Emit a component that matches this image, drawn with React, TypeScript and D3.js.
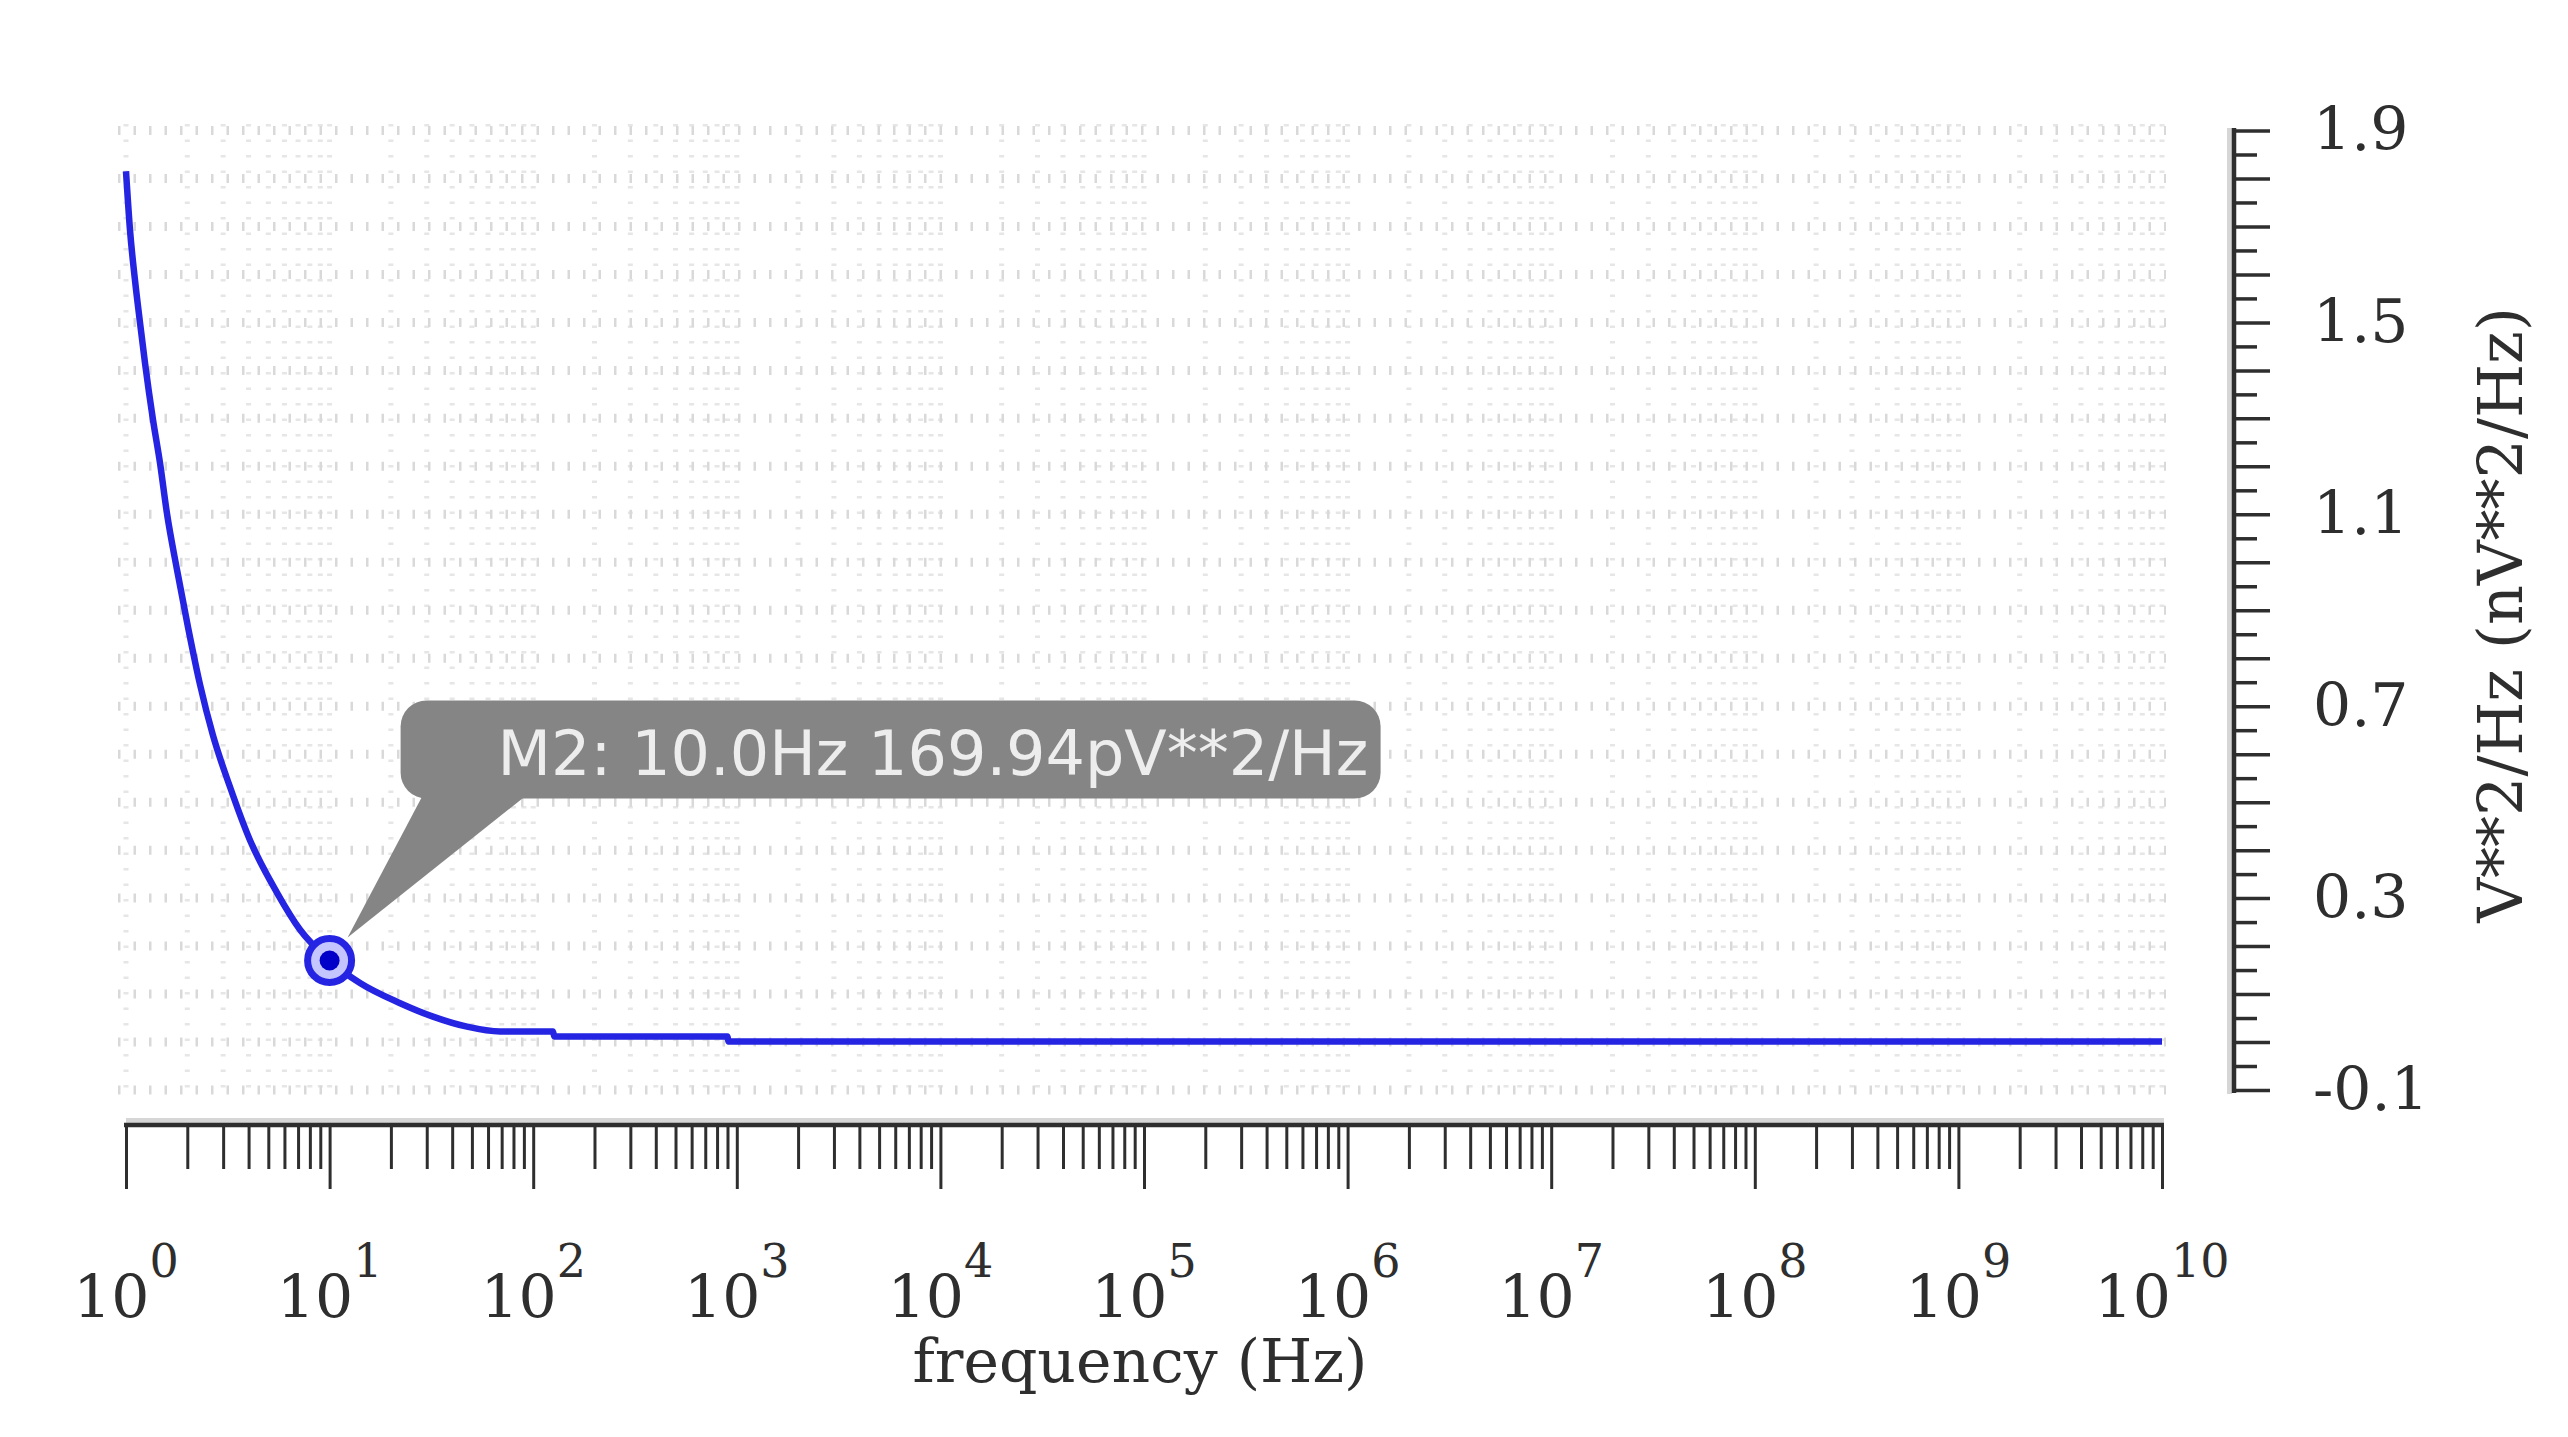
import React, { useRef, useEffect } from 'react';
import * as d3 from 'd3';

// trace: frequency (Hz) -> PSD (nV**2/Hz)
const freqHz = [1, 1.046, 1.107, 1.172, 1.24, 1.357, 1.469, 1.589, 1.781, 2.016, 2.31, 2.67, 3.24, 4.06, 5.52, 7.16, 10, 14.1, 22.2, 32.2, 47.3, 68.7, 125, 127, 900, 910, 1e10];
const psdValues = [1.815, 1.693, 1.588, 1.499, 1.415, 1.297, 1.207, 1.102, 0.984, 0.865, 0.745, 0.64, 0.532, 0.421, 0.311, 0.234, 0.17, 0.123, 0.081, 0.053, 0.032, 0.022, 0.022, 0.0115, 0.0115, 0.001, 0.001];

const xDecades = [0, 1, 2, 3, 4, 5, 6, 7, 8, 9, 10];
const yTickLabels = [-0.1, 0.3, 0.7, 1.1, 1.5, 1.9];

const markerFreq = 10;
const markerValue = 0.16994;
const markerLabel = 'M2: 10.0Hz 169.94pV**2/Hz';

const xTitle = 'frequency (Hz)';
const yTitle = 'V**2/Hz (nV**2/Hz)';

const App = () => {
  const svgRef = useRef<SVGSVGElement>(null);

  useEffect(() => {
    const width = 2568;
    const height = 1437;
    const serif = 'DejaVu Serif';
    const ink = '#2e2e2e';

    const svg = d3.select(svgRef.current)
      .attr('width', width)
      .attr('height', height);

    svg.selectAll('*').remove();

    const x = d3.scaleLog().domain([1, 1e10]).range([126, 2162]);
    const y = d3.scaleLinear().domain([-0.1, 1.9]).range([1090, 130.5]);
    const xAxisY = 1125;
    const yAxisX = 2234;

    const xMajor = xDecades.map(k => 10 ** k);
    const xMinor = xDecades.slice(0, -1).flatMap(k => d3.range(2, 10).map(m => m * 10 ** k));
    const yMajor = d3.range(0, 21).map(i => -0.1 + i * 0.1);
    const yMinor = d3.range(0, 20).map(i => -0.05 + i * 0.1);

    // dotted grid
    svg.append('g')
      .selectAll('line')
      .data([...xMajor, ...xMinor])
      .join('line')
      .attr('x1', d => x(d))
      .attr('x2', d => x(d))
      .attr('y1', 124)
      .attr('y2', 1096)
      .attr('stroke', '#e6e6e6')
      .attr('stroke-width', 5)
      .attr('stroke-dasharray', '2.5 13');

    svg.append('g')
      .selectAll('line')
      .data(yMajor)
      .join('line')
      .attr('x1', 118)
      .attr('x2', 2166)
      .attr('y1', d => y(d))
      .attr('y2', d => y(d))
      .attr('stroke', '#d9d9d9')
      .attr('stroke-width', 9)
      .attr('stroke-dasharray', '2.5 13');

    // trace
    const line = d3.line<number>()
      .x((d, i) => x(freqHz[i]))
      .y(d => y(d))
      .curve(d3.curveMonotoneX);

    svg.append('path')
      .datum(psdValues)
      .attr('fill', 'none')
      .attr('stroke', '#2424e2')
      .attr('stroke-width', 6.5)
      .attr('stroke-linejoin', 'round')
      .attr('d', line);

    // marker callout
    const mx = x(markerFreq);
    const my = y(markerValue);
    const callout = svg.append('g');
    callout.append('rect')
      .attr('x', mx + 71)
      .attr('y', my - 260)
      .attr('width', 980)
      .attr('height', 98)
      .attr('rx', 26)
      .attr('fill', '#858585');
    callout.append('polygon')
      .attr('points', `${mx + 18},${my - 23} ${mx + 92},${my - 163} ${mx + 194},${my - 163}`)
      .attr('fill', '#858585');
    callout.append('text')
      .attr('x', mx + 168)
      .attr('y', my - 185)
      .attr('font-family', 'DejaVu Sans')
      .attr('font-size', 62)
      .attr('fill', '#ededed')
      .text(markerLabel);

    svg.append('circle')
      .attr('cx', mx)
      .attr('cy', my)
      .attr('r', 22)
      .attr('fill', '#c4c4ff')
      .attr('stroke', '#2424e2')
      .attr('stroke-width', 7);
    svg.append('circle')
      .attr('cx', mx)
      .attr('cy', my)
      .attr('r', 10)
      .attr('fill', '#0000c8');

    // x axis
    svg.append('rect')
      .attr('x', 126)
      .attr('y', xAxisY - 7)
      .attr('width', 2038)
      .attr('height', 5)
      .attr('fill', '#d6d6d6');

    const gxMajor = svg.append('g').attr('transform', `translate(0,${xAxisY})`)
      .call(d3.axisBottom(x).tickValues(xMajor).tickSize(64).tickFormat(() => ''));
    const gxMinor = svg.append('g').attr('transform', `translate(0,${xAxisY})`)
      .call(d3.axisBottom(x).tickValues(xMinor).tickSize(44).tickFormat(() => ''));
    [gxMajor, gxMinor].forEach(g => {
      g.select('.domain').remove();
      g.selectAll('line').attr('stroke', ink).attr('stroke-width', 3);
    });

    svg.append('line')
      .attr('x1', 124)
      .attr('x2', 2164)
      .attr('y1', xAxisY)
      .attr('y2', xAxisY)
      .attr('stroke', ink)
      .attr('stroke-width', 4.5);

    const xLabels = svg.append('g')
      .attr('font-family', serif)
      .attr('fill', ink);
    xDecades.forEach(k => {
      const t = xLabels.append('text')
        .attr('x', x(10 ** k))
        .attr('y', 1318)
        .attr('text-anchor', 'middle')
        .attr('font-size', 60);
      t.append('tspan').text('10');
      t.append('tspan').attr('dy', -41).attr('font-size', 46).text(String(k));
    });

    svg.append('text')
      .attr('x', 1140)
      .attr('y', 1382)
      .attr('text-anchor', 'middle')
      .attr('font-family', serif)
      .attr('font-size', 60)
      .attr('fill', ink)
      .text(xTitle);

    // y axis (right)
    svg.append('rect')
      .attr('x', yAxisX - 7)
      .attr('y', 128)
      .attr('width', 5)
      .attr('height', 966)
      .attr('fill', '#d6d6d6');

    const gyMajor = svg.append('g').attr('transform', `translate(${yAxisX},0)`)
      .call(d3.axisRight(y).tickValues(yMajor).tickSize(36).tickFormat(() => ''));
    const gyMinor = svg.append('g').attr('transform', `translate(${yAxisX},0)`)
      .call(d3.axisRight(y).tickValues(yMinor).tickSize(23).tickFormat(() => ''));
    [gyMajor, gyMinor].forEach(g => {
      g.select('.domain').remove();
      g.selectAll('line').attr('stroke', ink).attr('stroke-width', 3.5);
    });

    svg.append('line')
      .attr('x1', yAxisX)
      .attr('x2', yAxisX)
      .attr('y1', 128)
      .attr('y2', 1093)
      .attr('stroke', ink)
      .attr('stroke-width', 4.5);

    const gyLabels = svg.append('g').attr('transform', `translate(${yAxisX},0)`)
      .call(d3.axisRight(y).tickValues(yTickLabels).tickSize(0).tickPadding(79)
        .tickFormat(d => (+d).toFixed(1)));
    gyLabels.select('.domain').remove();
    gyLabels.attr('font-size', 60).attr('font-family', serif);
    gyLabels.selectAll('text').attr('fill', ink);

    svg.append('text')
      .attr('transform', `translate(2522,615) rotate(-90)`)
      .attr('text-anchor', 'middle')
      .attr('font-family', serif)
      .attr('font-size', 62)
      .attr('fill', ink)
      .text(yTitle);
  }, []);

  return (
    <svg ref={svgRef} style={{ position: 'absolute', left: 0, top: 0, background: '#fff' }}></svg>
  );
};

export default App;
